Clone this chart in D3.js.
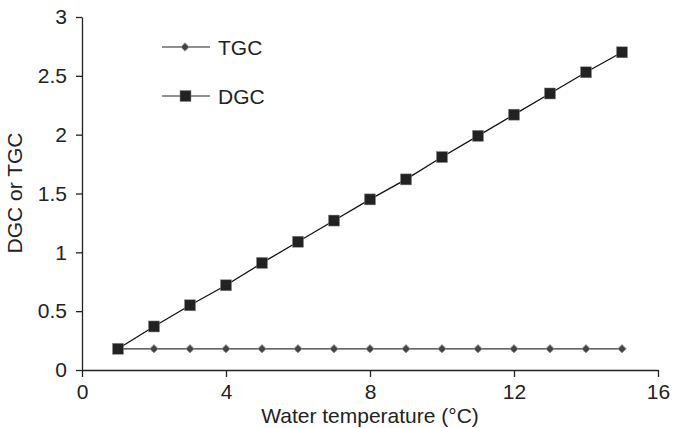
<!DOCTYPE html>
<html><head><meta charset="utf-8">
<script src="https://cdn.jsdelivr.net/npm/d3@7"></script>
<style>body{margin:0;background:#fff}svg{display:block}text{font-family:"Liberation Sans",Arial,sans-serif}</style>
</head><body>
<svg id="c" width="673" height="428"></svg>
<script>
const temps = [1,2,3,4,5,6,7,8,9,10,11,12,13,14,15];
const dgc = [0.18,0.37,0.55,0.72,0.91,1.09,1.27,1.45,1.62,1.81,1.99,2.17,2.35,2.53,2.70];
const tgc = [0.18,0.18,0.18,0.18,0.18,0.18,0.18,0.18,0.18,0.18,0.18,0.18,0.18,0.18,0.18];
const xTicks = [0,4,8,12,16];
const yTicks = [0,0.5,1,1.5,2,2.5,3];
const yTickLabels = ["0","0.5","1","1.5","2","2.5","3"];

const FS = 21;
const svg = d3.select("#c");
const x = d3.scaleLinear().domain([0,16]).range([82,658]);
const y = d3.scaleLinear().domain([0,3]).range([370,17]);

const xa = svg.append("g").attr("transform","translate(0,370)")
  .call(d3.axisBottom(x).tickValues(xTicks).tickSize(7).tickSizeOuter(0).tickPadding(7));
const ya = svg.append("g").attr("transform","translate(82,0)")
  .call(d3.axisLeft(y).tickValues(yTicks).tickFormat((d,i)=>yTickLabels[i]).tickSize(6).tickSizeOuter(0).tickPadding(9));
[xa,ya].forEach(a=>{
  a.attr("font-size",FS).attr("font-family","Liberation Sans, Arial, sans-serif");
  a.selectAll("path,line").attr("stroke","#222").attr("stroke-width",1.3);
  a.selectAll("text").attr("fill","#222");
});

svg.append("text").attr("x",370).attr("y",423).attr("text-anchor","middle")
  .attr("font-size",FS).attr("fill","#222").text("Water temperature (°C)");
svg.append("text").attr("transform","translate(22,193) rotate(-90)").attr("text-anchor","middle")
  .attr("font-size",FS).attr("fill","#222").text("DGC or TGC");

const line = d3.line().x((d,i)=>x(temps[i])).y(d=>y(d));
svg.append("path").datum(tgc).attr("d",line).attr("fill","none").attr("stroke","#333").attr("stroke-width",1.2);
svg.append("path").datum(dgc).attr("d",line).attr("fill","none").attr("stroke","#111").attr("stroke-width",1.3);

const diamond = d3.symbol().type(d3.symbolDiamond2).size(45);
svg.append("g").selectAll("path").data(tgc).join("path")
  .attr("transform",(d,i)=>`translate(${x(temps[i])},${y(d)})`)
  .attr("d",diamond).attr("fill","#444").attr("stroke","#999").attr("stroke-width",1);
svg.append("g").selectAll("rect").data(dgc).join("rect")
  .attr("x",(d,i)=>x(temps[i])-5.5).attr("y",d=>y(d)-5.5).attr("width",11).attr("height",11)
  .attr("fill","#222").attr("stroke","#888").attr("stroke-width",0.5);

// legend
const lg = svg.append("g");
lg.append("line").attr("x1",162).attr("x2",210).attr("y1",47).attr("y2",47).attr("stroke","#222").attr("stroke-width",1.2);
lg.append("path").attr("transform","translate(185,47)").attr("d",diamond).attr("fill","#444").attr("stroke","#999");
lg.append("text").attr("x",218).attr("y",55).attr("font-size",FS).attr("fill","#222").text("TGC");
lg.append("line").attr("x1",162).attr("x2",210).attr("y1",96).attr("y2",96).attr("stroke","#222").attr("stroke-width",1.2);
lg.append("rect").attr("x",180).attr("y",90.5).attr("width",11).attr("height",11).attr("fill","#222").attr("stroke","#888").attr("stroke-width",0.5);
lg.append("text").attr("x",218).attr("y",104).attr("font-size",FS).attr("fill","#222").text("DGC");
</script>
</body></html>
